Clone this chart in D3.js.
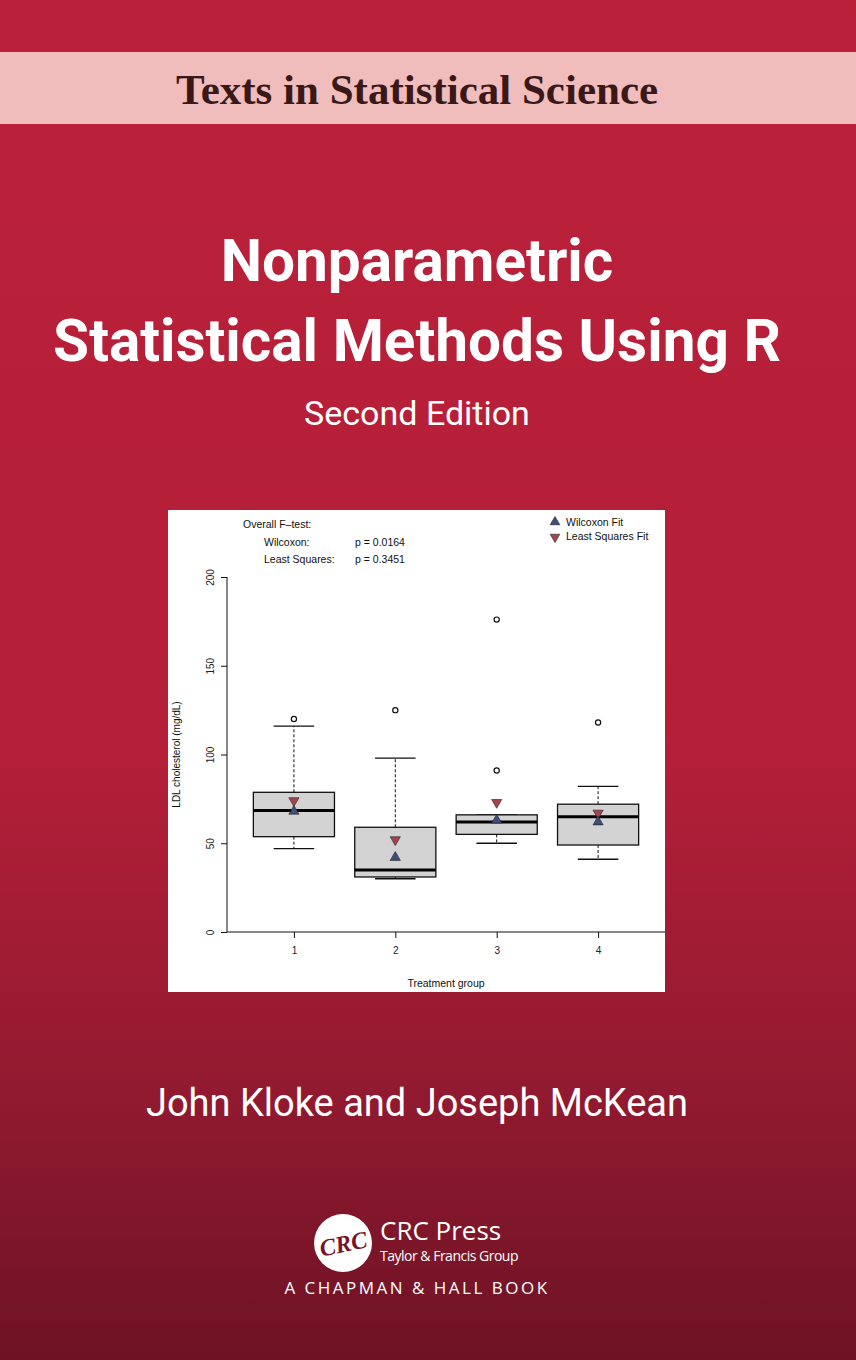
<!DOCTYPE html>
<html><head><meta charset="utf-8">
<script src="https://cdn.jsdelivr.net/npm/d3@7"></script>
<style>body{margin:0}svg{display:block}</style></head>
<body><script>
const groups=["1","2","3","4"];
const q1=[53.7,31,55,49];
const medians=[68.5,35,62,65];
const q3=[78.7,59,66,72];
const whiskLo=[47,30,50,41];
const whiskHi=[116,98,66,82];
const outliers=[[120],[125],[91,176],[118]];
const wilcoxonFit=[68,42,63,62];
const lsFit=[74,52,73,67];
const yTicks=[0,50,100,150,200];

const W=856,H=1360;
const svg=d3.select("body").append("svg").attr("width",W).attr("height",H);
const defs=svg.append("defs");
const g=defs.append("linearGradient").attr("id","bg").attr("x1",0).attr("x2",0).attr("y1",0).attr("y2",1);
g.append("stop").attr("offset","0").attr("stop-color","#bb2039");
g.append("stop").attr("offset","0.55").attr("stop-color","#b41f38");
g.append("stop").attr("offset","0.8").attr("stop-color","#921a30");
g.append("stop").attr("offset","1").attr("stop-color","#6e1224");
svg.append("rect").attr("width",W).attr("height",H).attr("fill","url(#bg)");
svg.append("rect").attr("y",52).attr("width",W).attr("height",72).attr("fill","#f0bdbc");
svg.append("text").attr("x",417).attr("y",104).attr("text-anchor","middle").attr("font-family","Liberation Serif").attr("font-weight","bold").attr("font-size",43).attr("fill","#3a1818").text("Texts in Statistical Science");
const tf="Roboto";
svg.append("text").attr("x",417).attr("y",281).attr("text-anchor","middle").attr("font-family",tf).attr("font-weight","bold").attr("font-size",58.5).attr("fill","#fff").text("Nonparametric");
svg.append("text").attr("x",417).attr("y",361).attr("text-anchor","middle").attr("font-family",tf).attr("font-weight","bold").attr("font-size",58.5).attr("fill","#fff").text("Statistical Methods Using R");
svg.append("text").attr("x",417).attr("y",425).attr("text-anchor","middle").attr("font-family",tf).attr("font-size",34).attr("fill","#fff").text("Second Edition");
svg.append("text").attr("x",417).attr("y",1116).attr("text-anchor","middle").attr("font-family",tf).attr("font-size",38).attr("fill","#fff").text("John Kloke and Joseph McKean");
// logo
svg.append("circle").attr("cx",343).attr("cy",1243).attr("r",29).attr("fill","#fff");
svg.append("text").attr("x",343).attr("y",1252).attr("text-anchor","middle").attr("font-family","Liberation Serif").attr("font-style","italic").attr("font-weight","bold").attr("font-size",24).attr("fill","#7a1228").attr("transform","rotate(-12,343,1243)").text("CRC");
svg.append("text").attr("x",380).attr("y",1240).attr("font-family","Open Sans").attr("font-size",26).attr("fill","#fff").text("CRC Press");
svg.append("text").attr("x",380).attr("y",1261).attr("font-family","Open Sans").attr("font-size",14).attr("fill","#fff").attr("letter-spacing",-0.5).text("Taylor & Francis Group");
svg.append("text").attr("x",417).attr("y",1294).attr("text-anchor","middle").attr("font-family","Open Sans").attr("font-size",17).attr("letter-spacing",2.5).attr("fill","#fff").text("A CHAPMAN & HALL BOOK");

// chart panel
svg.append("rect").attr("x",168).attr("y",510).attr("width",497).attr("height",482).attr("fill","#fff");
const x=d3.scaleLinear().domain([0.34,4.66]).range([227,665]);
const y=d3.scaleLinear().domain([0,200]).range([932,577]);
const ff="Liberation Sans";
const ya=svg.append("g").attr("transform","translate(227,0)").call(d3.axisLeft(y).tickValues(yTicks).tickSize(6));
ya.select(".domain").attr("d","M0,"+y(200)+"V"+y(0));
ya.selectAll("text").attr("font-family",ff).attr("font-size",10).attr("fill","#222").attr("text-anchor","middle")
  .attr("x",0).attr("y",0).attr("dy",0).attr("transform","translate(-13,0) rotate(-90)");
ya.selectAll("line,path").attr("stroke","#111");
const xa=svg.append("g").attr("transform","translate(0,932)").call(d3.axisBottom(x).tickValues([1,2,3,4]).tickFormat(d=>groups[d-1]).tickSize(6).tickPadding(9));
xa.select(".domain").attr("d","M227,0H665");
xa.selectAll("text").attr("font-family",ff).attr("font-size",10).attr("fill","#222");
xa.selectAll("line,path").attr("stroke","#111");
svg.append("text").attr("x",446).attr("y",987).attr("text-anchor","middle").attr("font-family",ff).attr("font-size",10.5).attr("fill","#111").text("Treatment group");
svg.append("text").attr("transform","translate(180,"+y(100)+") rotate(-90)").attr("text-anchor","middle").attr("font-family",ff).attr("font-size",10).attr("fill","#111").text("LDL cholesterol (mg/dL)");

groups.forEach((gname,i)=>{
  const cx=x(i+1);
  const b=svg.append("g");
  b.append("line").attr("x1",cx).attr("x2",cx).attr("y1",y(q3[i])).attr("y2",y(whiskHi[i])).attr("stroke","#111").attr("stroke-dasharray","3,2");
  b.append("line").attr("x1",cx).attr("x2",cx).attr("y1",y(q1[i])).attr("y2",y(whiskLo[i])).attr("stroke","#111").attr("stroke-dasharray","3,2");
  [whiskHi[i],whiskLo[i]].forEach(v=>b.append("line").attr("x1",x(i+1-0.2)).attr("x2",x(i+1+0.2)).attr("y1",y(v)).attr("y2",y(v)).attr("stroke","#111").attr("stroke-width",1.3));
  b.append("rect").attr("x",x(i+0.6)).attr("width",x(i+1.4)-x(i+0.6)).attr("y",y(q3[i])).attr("height",y(q1[i])-y(q3[i])).attr("fill","#d3d3d3").attr("stroke","#111").attr("stroke-width",1.3);
  b.append("line").attr("x1",x(i+0.6)).attr("x2",x(i+1.4)).attr("y1",y(medians[i])).attr("y2",y(medians[i])).attr("stroke","#000").attr("stroke-width",3);
  outliers[i].forEach(v=>b.append("circle").attr("cx",cx).attr("cy",y(v)).attr("r",2.6).attr("fill","none").attr("stroke","#111").attr("stroke-width",1.2));
  b.append("path").attr("d",d3.symbol(d3.symbolTriangle,45)()).attr("transform","translate("+cx+","+y(lsFit[i])+") rotate(180)").attr("fill","#a4454c").attr("stroke","#222").attr("stroke-width",0.6);
  b.append("path").attr("d",d3.symbol(d3.symbolTriangle,45)()).attr("transform","translate("+cx+","+y(wilcoxonFit[i])+")").attr("fill","#3d4f7c").attr("stroke","#222").attr("stroke-width",0.6);
});
// annotations
const t=(xx,yy,s)=>svg.append("text").attr("x",xx).attr("y",yy).attr("font-family",ff).attr("font-size",10.5).attr("fill","#111").text(s);
t(243,528,"Overall F\u2013test:");
t(264,546,"Wilcoxon:");t(355,546,"p = 0.0164");
t(264,563,"Least Squares:");t(355,563,"p = 0.3451");
svg.append("path").attr("d",d3.symbol(d3.symbolTriangle,40)()).attr("transform","translate(555,522)").attr("fill","#3d4f7c").attr("stroke","#222").attr("stroke-width",0.6);
svg.append("path").attr("d",d3.symbol(d3.symbolTriangle,40)()).attr("transform","translate(555,537) rotate(180)").attr("fill","#a4454c").attr("stroke","#222").attr("stroke-width",0.6);
t(566,526,"Wilcoxon Fit");t(566,540,"Least Squares Fit");
</script></body></html>
